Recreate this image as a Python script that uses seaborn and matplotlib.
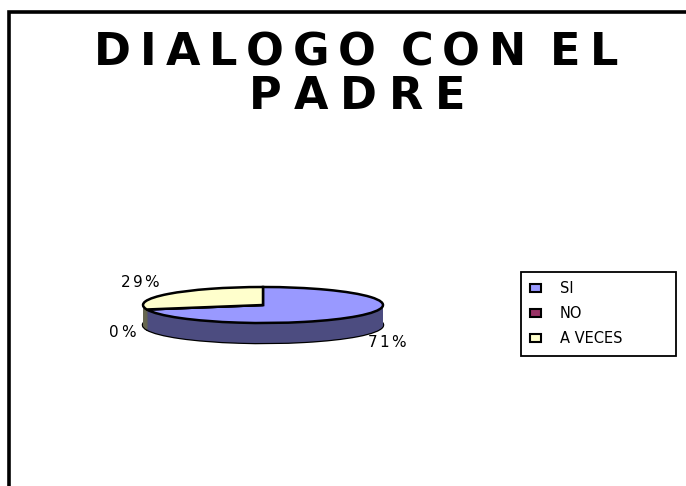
import matplotlib
matplotlib.use("Agg")
import matplotlib.pyplot as plt
from matplotlib import font_manager, ft2font
from matplotlib.patches import Patch, Rectangle
import numpy as np
import seaborn as sns

# data
categories = ["SI", "NO", "A VECES"]
values = [71, 0, 29]
top_colors = ["#9999FF", "#993366", "#FFFFCC"]
side_colors = ["#4C4C80", "#4D1A33", "#66664F"]
title_lines = ["DIALOGO CON EL", "PADRE"]

sns.set_theme(style="white")
plt.rcParams["font.family"] = ["DejaVu Sans"]
plt.rcParams["text.color"] = "black"

W, H = 686, 486
DPI = 100
fig = plt.figure(figsize=(W / DPI, H / DPI), dpi=DPI)


def advances(s, size, weight):
    # advance width of each char in pixels
    fp = font_manager.FontProperties(family="DejaVu Sans", weight=weight)
    f = ft2font.FT2Font(font_manager.findfont(fp))
    f.set_size(size, DPI)
    return [f.load_char(ord(c)).linearHoriAdvance / 65536 for c in s]


def tracked_text(s, x, y, size, weight="normal", track=0.0, width=None,
                 ha="center", va="baseline"):
    # the old Excel chart has stretched, widely spaced letters:
    # place each char on its own so the spacing can be opened up
    # (pairs with a space get half the extra room)
    adv = advances(s, size, weight)
    gaps = [0.5 if " " in (a, b) else 1.0 for a, b in zip(s, s[1:])]
    if width is not None:
        track = (width - sum(adv)) / max(sum(gaps), 1)
    total = sum(adv) + track * sum(gaps)
    left = {"left": x, "center": x - total / 2, "right": x - total}[ha]
    pos = left
    for i, (c, a) in enumerate(zip(s, adv)):
        fig.text(pos / W, 1 - y / H, c, fontsize=size, fontweight=weight,
                 ha="left", va=va)
        pos += a + (track * gaps[i] if i < len(gaps) else 0)


# frame of the chart area (cut at right and bottom)
fig.patches.append(Rectangle((8.5 / W, -0.1), 1.2, 1 - 12 / H + 0.1,
                             transform=fig.transFigure, fill=False,
                             edgecolor="black", linewidth=2.6))

tracked_text(title_lines[0], 356, 65, 32, "bold", width=524)
tracked_text(title_lines[1], 357, 109, 32, "bold", width=216)

# pie axes: 120 px per unit across, 18 px per unit down (flattened 3D look)
cx, cy, rx, ry = 263, 305, 120, 18
ylo, yhi = -3.0, 1.8
ax = fig.add_axes([(cx - rx) / W, (H - cy + ylo * ry) / H,
                   2 * rx / W, (yhi - ylo) * ry / H])
depth = 20 / ry

# bottom outline + side fill + top
ax.pie(values, colors=side_colors, startangle=90, counterclock=False,
       center=(0, -depth),
       wedgeprops=dict(edgecolor="black", linewidth=1.8))
for d in np.linspace(depth, 0, 40):
    ax.pie(values, colors=side_colors, startangle=90, counterclock=False,
           center=(0, -d), wedgeprops=dict(linewidth=0))
wedges, _ = ax.pie(values, colors=top_colors, startangle=90,
                   counterclock=False,
                   wedgeprops=dict(edgecolor="black", linewidth=1.8))

ax.set_aspect("auto")
ax.set_xlim(-1, 1)
ax.set_ylim(ylo, yhi)
ax.axis("off")

# percentage labels around the pie
for w, v in zip(wedges, values):
    ang = np.deg2rad((w.theta1 + w.theta2) / 2)
    lx = 1.1 * np.cos(ang)
    ly = 1.6 * np.sin(ang) + (0.25 if np.sin(ang) > 0 else -depth)
    px, py = ax.transData.transform((lx, ly))
    tracked_text(f"{v}%", px, H - py, 11, track=2,
                 ha="left" if np.cos(ang) > 0 else "right", va="center")

handles = [Patch(facecolor=c, edgecolor="black", linewidth=1.5) for c in top_colors]
leg = fig.legend(handles, categories, loc="upper left", mode="expand",
                 bbox_to_anchor=(521 / W, 1 - 355 / H, 155 / W, 83 / H),
                 prop=dict(family="DejaVu Sans", size=10.5),
                 frameon=True, fancybox=False, edgecolor="black",
                 framealpha=1, handlelength=0.7, handleheight=0.5,
                 handletextpad=1.3, labelspacing=0.68, borderpad=0.65,
                 borderaxespad=0)
leg.get_frame().set_linewidth(1.3)

fig.savefig("out.png", dpi=DPI)
